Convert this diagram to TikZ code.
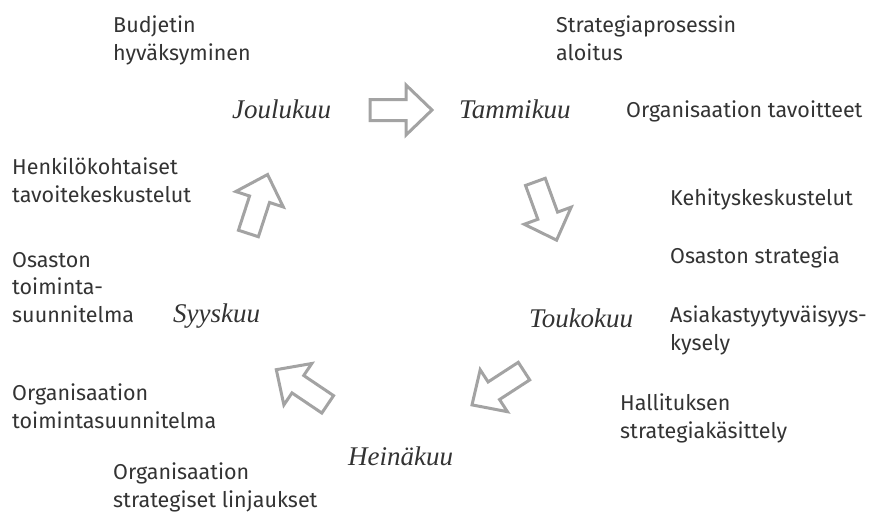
\documentclass[tikz,border=0pt]{standalone}
\usepackage{fontspec}
\newfontfamily\lblfont{Fira Sans}
\newfontfamily\monthfont{Liberation Serif}
\definecolor{txt}{HTML}{333333}
\definecolor{arr}{HTML}{A3A3A3}
\begin{document}
\begin{tikzpicture}[x=1pt,y=-1pt,
  lbl/.style={anchor=base west,align=left,inner sep=0pt,text=txt,font=\lblfont\fontsize{21.5}{27.5}\selectfont},
  month/.style={anchor=base west,inner sep=0pt,text=txt,font=\monthfont\itshape\fontsize{27}{30}\selectfont},
  hollow/.style={draw=arr,line width=3pt,line join=miter,fill=white}]
\useasboundingbox (0,0) rectangle (878,515);
\newcommand\blockarrow[3]{%
  \begin{scope}[shift={(#1,#2)},rotate=#3]
    \draw[hollow] (-31,-10.5) -- (5,-10.5) -- (5,-25) -- (31,0) -- (5,25) -- (5,10.5) -- (-31,10.5) -- cycle;
  \end{scope}}
% months
\node[month] (jou) at (232,118) {Joulukuu};
\node[month] (tam) at (459,118) {Tammikuu};
\node[month] (tou) at (529,327) {Toukokuu};
\node[month] (hei) at (348,465) {Heinäkuu};
\node[month] (syy) at (173,322) {Syyskuu};
% arrows
\blockarrow{401}{110}{0}
\blockarrow{546}{211}{-70}
\blockarrow{498}{388}{-147}
\blockarrow{302}{387}{146}
\blockarrow{258}{204}{72}
% labels (anchor = baseline of last line)
\node[lbl] (bud) at (113,60) {Budjetin\\hyväksyminen};
\node[lbl] (str) at (556,60) {Strategiaprosessin\\aloitus};
\node[lbl] (otav) at (626,117) {Organisaation tavoitteet};
\node[lbl] (hen) at (12,202) {Henkilökohtaiset\\tavoitekeskustelut};
\node[lbl] (keh) at (670,205) {Kehityskeskustelut};
\node[lbl] (ostr) at (670,263) {Osaston strategia};
\node[lbl] (otoi) at (12,322) {Osaston\\toiminta-\\suunnitelma};
\node[lbl] (asi) at (670,350) {Asiakastyytyväisyys-\\kysely};
\node[lbl] (orgt) at (12,428) {Organisaation\\toimintasuunnitelma};
\node[lbl] (hal) at (620,438) {Hallituksen\\strategiakäsittely};
\node[lbl] (orgs) at (113,507) {Organisaation\\strategiset linjaukset};
\end{tikzpicture}
\end{document}
